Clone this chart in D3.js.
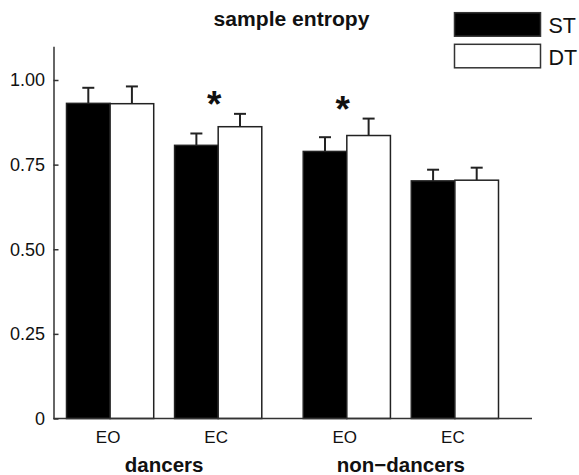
<!DOCTYPE html>
<html>
<head>
<meta charset="utf-8">
<script src="https://cdn.jsdelivr.net/npm/d3@7"></script>
<style>
  body { margin: 0; background: #fff; }
  text { font-family: "Liberation Sans", Arial, Helvetica, sans-serif; fill: #111; }
</style>
</head>
<body>
<svg width="579" height="475"></svg>
<script>
'use strict';

// data
const groups = ["dancers", "non\u2212dancers"];
const conditions = ["EO", "EC"];
const series = ["ST", "DT"];
const stMean = [0.931, 0.807, 0.789, 0.702];
const stSe = [0.046, 0.035, 0.042, 0.033];
const dtMean = [0.930, 0.862, 0.836, 0.704];
const dtSe = [0.051, 0.038, 0.050, 0.037];
const starred = [false, true, true, false];
const yTicks = [0, 0.25, 0.5, 0.75, 1.0];

const svg = d3.select("svg");

const axisX = 53.5;
const y0 = 418.5;
const axisRight = 532;

const y = d3.scaleLinear()
    .domain([0, 1.1])
    .range([y0, y0 - 1.1 * 338.5]);

const outer = d3.scaleBand()
    .domain(groups)
    .range([66.5, 498.5])
    .paddingInner(0.175);

const inner = d3.scaleBand()
    .domain(conditions)
    .range([0, outer.bandwidth()])
    .paddingInner(0.193);

const sx = d3.scaleBand()
    .domain(series)
    .range([0, inner.bandwidth()]);

// one row per condition
const rows = [];
groups.forEach((g, gi) => {
    conditions.forEach((c, ci) => {
        const i = gi * conditions.length + ci;
        rows.push({
            g: g, c: c, i: i, star: starred[i],
            bars: [
                {s: "ST", m: stMean[i], se: stSe[i]},
                {s: "DT", m: dtMean[i], se: dtSe[i]}
            ]
        });
    });
});

const colour = {ST: "#000", DT: "#fff"};

const rowG = svg.append("g").selectAll("g")
    .data(rows)
    .join("g")
    .attr("transform", d => `translate(${outer(d.g) + inner(d.c)},0)`);

// error bars first so the bar outlines sit on top
rowG.selectAll("g.err")
    .data(d => d.bars)
    .join("g")
    .attr("class", "err")
    .each(function(d) {
        const cx = sx(d.s) + sx.bandwidth() / 2;
        const g = d3.select(this);
        g.append("line")
            .attr("x1", cx).attr("x2", cx)
            .attr("y1", y(d.m)).attr("y2", y(d.m + d.se))
            .attr("stroke", "#222").attr("stroke-width", 2);
        g.append("line")
            .attr("x1", cx - 6).attr("x2", cx + 6)
            .attr("y1", y(d.m + d.se)).attr("y2", y(d.m + d.se))
            .attr("stroke", "#222").attr("stroke-width", 2);
    });

rowG.selectAll("rect")
    .data(d => d.bars)
    .join("rect")
    .attr("x", d => sx(d.s))
    .attr("width", sx.bandwidth())
    .attr("y", d => y(d.m))
    .attr("height", d => y(0) - y(d.m))
    .attr("fill", d => colour[d.s])
    .attr("stroke", "#222")
    .attr("stroke-width", 1.5);

rowG.filter(d => d.star)
    .append("text")
    .attr("x", inner.bandwidth() / 2 - 4)
    .attr("y", d => y(d3.max(d.bars, b => b.m + b.se)) + 3)
    .attr("text-anchor", "middle")
    .attr("font-size", 37)
    .attr("font-weight", "bold")
    .text("*");

// condition labels
rowG.append("text")
    .attr("x", inner.bandwidth() / 2 - 2)
    .attr("y", 443)
    .attr("text-anchor", "middle")
    .attr("font-size", 17)
    .text(d => d.c);

svg.append("g").selectAll("text")
    .data(groups)
    .join("text")
    .attr("x", d => outer(d) + outer.bandwidth() / 2)
    .attr("y", 471.5)
    .attr("text-anchor", "middle")
    .attr("font-size", 20.5)
    .attr("font-weight", "bold")
    .text(d => d);

// x baseline
svg.append("line")
    .attr("x1", axisX).attr("x2", axisRight)
    .attr("y1", y(0)).attr("y2", y(0))
    .attr("stroke", "#333").attr("stroke-width", 1.5);

const yAxis = svg.append("g")
    .attr("transform", `translate(${axisX},0)`)
    .call(d3.axisLeft(y)
        .tickValues(yTicks)
        .tickSizeInner(-5)
        .tickSizeOuter(0)
        .tickPadding(8.5)
        .tickFormat(d => d === 0 ? "0" : d.toFixed(2)));
yAxis.select(".domain").attr("stroke", "#333").attr("stroke-width", 1.5);
yAxis.selectAll(".tick line").attr("stroke", "#333").attr("stroke-width", 1.5);
yAxis.selectAll(".tick text")
    .attr("font-size", 18)
    .attr("font-family", "Liberation Sans, Arial, sans-serif")
    .attr("fill", "#111");

svg.append("text")
    .attr("x", 291.5)
    .attr("y", 26)
    .attr("text-anchor", "middle")
    .attr("font-size", 19.5)
    .attr("font-weight", "bold")
    .attr("textLength", 156)
    .attr("lengthAdjust", "spacingAndGlyphs")
    .text("sample entropy");

// legend
const legend = svg.append("g").selectAll("g")
    .data(series)
    .join("g")
    .attr("transform", (d, i) => `translate(454.5,${12.7 + i * 31.6})`);
legend.append("rect")
    .attr("width", 86)
    .attr("height", 23.5)
    .attr("fill", d => colour[d])
    .attr("stroke", "#333")
    .attr("stroke-width", 1.5);
legend.append("text")
    .attr("x", 94)
    .attr("y", 20.5)
    .attr("font-size", 21.5)
    .text(d => d);
</script>
</body>
</html>
